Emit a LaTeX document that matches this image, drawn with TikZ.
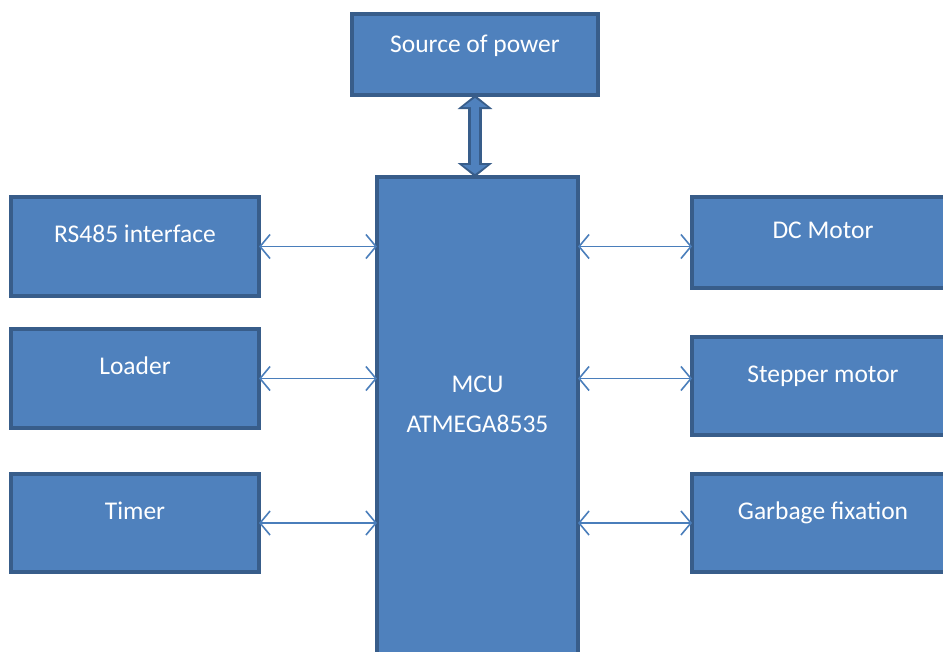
\documentclass[tikz,border=0pt]{standalone}
\usepackage{fontspec}
\setmainfont{Carlito}
\usetikzlibrary{arrows.meta, positioning}

\definecolor{blockfill}{HTML}{4F81BD}
\definecolor{blockline}{HTML}{385D8A}
\definecolor{linkblue}{HTML}{4A7EBB}

\begin{document}
\begin{tikzpicture}[
    x=1pt, y=1pt,
    block/.style = {rectangle, draw=blockline, fill=blockfill, line width=3.5pt, outer sep=0pt, text=white, font=\fontsize{25.5}{30}\selectfont, text height=17pt, text depth=25pt, inner sep=0pt},
    side/.style = {block, minimum width=248pt, minimum height=99pt},
    link/.style = {draw=linkblue, line width=1.6pt, {Straight Barb[length=10pt,width=24pt]}-{Straight Barb[length=10pt,width=24pt]}},
    ]
\useasboundingbox (0,0) rectangle (943,-651);
\clip (0,0) rectangle (943,-651);
\fill[white] (0,0) rectangle (943,-651);

\node[block, minimum width=201pt, minimum height=520pt, anchor=north] (mcu) at (477.5,-177) {};
\node[font=\fontsize{25.5}{40}\selectfont, text=white, align=center, below=195pt of mcu.north] (mcutext) {MCU\\ATMEGA8535};
\node[block, text depth=21pt, minimum width=246pt, minimum height=81pt, above=82pt of mcu.north, xshift=-2.5pt] (pwr) {Source of power};

\node[side, below left=20pt and 118pt of mcu.north west] (rs485) {RS485 interface};
\node[side, below=33pt of rs485] (loader) {Loader};
\node[side, minimum height=98pt, below=46pt of loader] (timer) {Timer};

\node[side, minimum width=262pt, minimum height=91pt, below right=20pt and 114pt of mcu.north east] (dc) {DC Motor};
\node[side, minimum width=262pt, minimum height=98pt, below=49pt of dc] (stepper) {Stepper motor};
\node[side, minimum width=262pt, minimum height=98pt, below=39pt of stepper] (garbage) {Garbage fixation};

%connectors
\draw[link] (rs485.east) -- (rs485.east -| mcu.west);
\draw[link] (loader.east) -- (loader.east -| mcu.west);
\draw[link] (timer.east) -- (timer.east -| mcu.west);
\draw[link] (rs485.east -| mcu.east) -- (rs485.east -| dc.west);
\draw[link] (loader.east -| mcu.east) -- (loader.east -| stepper.west);
\draw[link] (timer.east -| mcu.east) -- (timer.east -| garbage.west);

\draw[line width=14pt, blockline, {Triangle[length=14pt,width=34pt]}-{Triangle[length=14pt,width=34pt]}] (pwr.south) -- (pwr.south |- mcu.north);
\draw[line width=8pt, blockfill, shorten >=3pt, shorten <=3pt, {Triangle[length=9pt,width=24pt]}-{Triangle[length=9pt,width=24pt]}] (pwr.south) -- (pwr.south |- mcu.north);
\end{tikzpicture}
\end{document}
